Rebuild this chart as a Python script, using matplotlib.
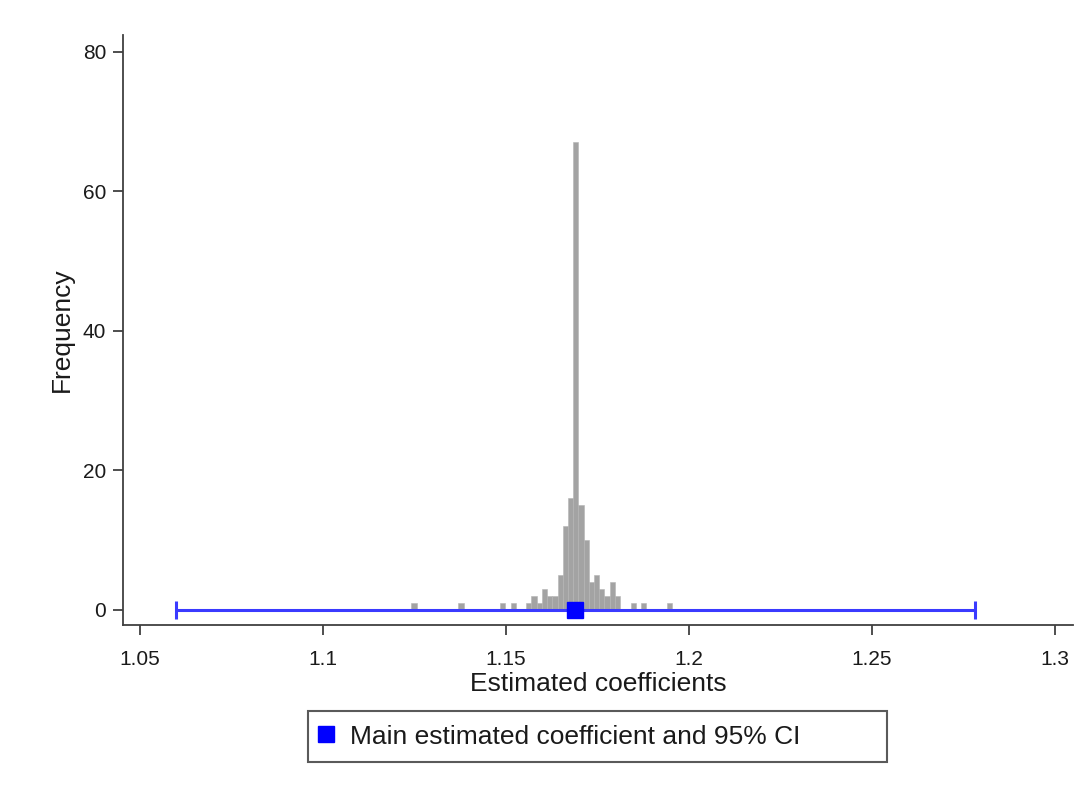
import matplotlib.pyplot as plt
from matplotlib.lines import Line2D
import numpy as np

# Histogram of re-estimated coefficients (50 equal bins)
hist_lo = 1.1242
hist_hi = 1.1955
counts = [1, 0, 0, 0, 0, 0, 0, 0, 0, 1,
          0, 0, 0, 0, 0, 0, 0, 1, 0, 1,
          0, 0, 1, 2, 1, 3, 2, 2, 5, 12,
          16, 67, 15, 10, 4, 5, 3, 2, 4, 2,
          0, 0, 1, 0, 1, 0, 0, 0, 0, 1]

# Main estimate and its 95% confidence interval
main_coef = 1.169
ci_low = 1.0598
ci_high = 1.2781

xticks = [1.05, 1.1, 1.15, 1.2, 1.25, 1.3]
xticklabels = ['1.05', '1.1', '1.15', '1.2', '1.25', '1.3']
yticks = [0, 20, 40, 60, 80]

plt.rcParams['font.family'] = ['Liberation Sans', 'DejaVu Sans']
W, H = 1088, 792

fig = plt.figure(figsize=(W / 100, H / 100), dpi=100)
ax = fig.add_axes([122.7 / W, 1 - 625 / H, (1073 - 122.7) / W, (625 - 35) / H])

edges = np.linspace(hist_lo, hist_hi, len(counts) + 1)
ax.bar(edges[:-1], counts, width=np.diff(edges), align='edge',
       color='#a3a3a3', edgecolor='#b4b4b4', linewidth=0.4, zorder=2)

# CI line with end caps, then the point estimate
ax.errorbar([main_coef], [0], xerr=[[main_coef - ci_low], [ci_high - main_coef]],
            fmt='none', ecolor='#3a3aff', elinewidth=2.2, capsize=6.5,
            capthick=2.2, zorder=3)
ax.plot([main_coef], [0], marker='s', markersize=11.5, color='#0000ff',
        linestyle='none', zorder=4)

ax.set_xlim(1.0453, 1.305)
ax.set_ylim(-2.2, 82.4)
ax.set_xticks(xticks)
ax.set_xticklabels(xticklabels)
ax.set_yticks(yticks)

for side in ['top', 'right']:
    ax.spines[side].set_visible(False)
for side in ['left', 'bottom']:
    ax.spines[side].set_color('#404040')
    ax.spines[side].set_linewidth(1.3)
ax.tick_params(axis='both', colors='#404040', labelcolor='#1a1a1a',
               labelsize=15, length=7, width=1.3)
ax.tick_params(axis='x', pad=11)
ax.tick_params(axis='y', pad=5)

ax.set_xlabel('Estimated coefficients', fontsize=19, color='#1a1a1a', labelpad=2)
ax.set_ylabel('Frequency', fontsize=19, color='#1a1a1a', labelpad=6)

handle = Line2D([], [], marker='s', color='#0000ff', linestyle='none', markersize=11)
leg = ax.legend([handle], ['Main estimated coefficient and 95% CI'],
                loc='center', mode='expand',
                bbox_to_anchor=(308 / W, 1 - 762 / H, (887 - 308) / W, (762 - 711) / H),
                bbox_transform=fig.transFigure, fontsize=19, frameon=True,
                fancybox=False, edgecolor='#5a5a5a', framealpha=1,
                borderpad=0.5, handlelength=0.35, handletextpad=0.75,
                borderaxespad=0)
leg.get_frame().set_linewidth(1.5)
for t in leg.get_texts():
    t.set_color('#1a1a1a')

fig.savefig('out.png', dpi=100, facecolor='white')
